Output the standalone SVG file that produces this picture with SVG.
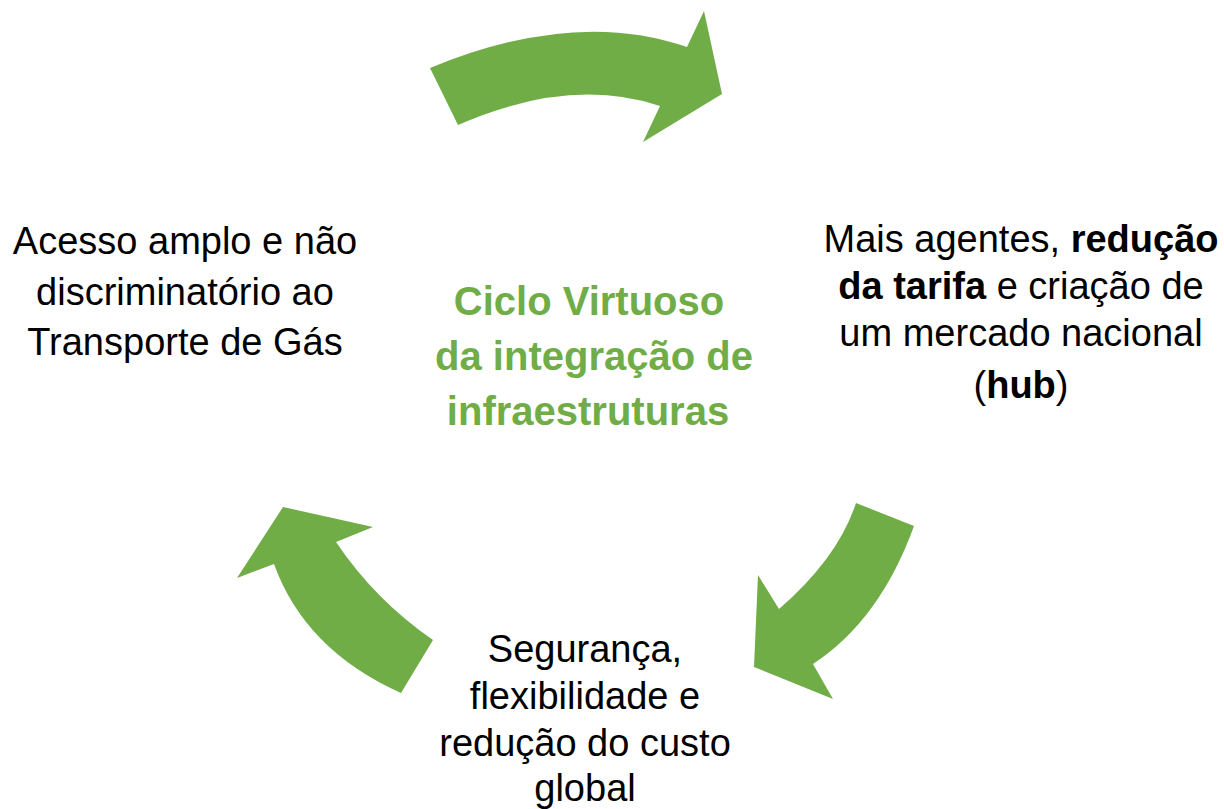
<svg xmlns="http://www.w3.org/2000/svg" width="1224" height="809" viewBox="0 0 1224 809">
<style>
.arrow{fill:#70AD47;stroke:none}
.lbl{font-family:"Liberation Sans",Arial,sans-serif;font-size:38px;fill:#000;text-anchor:middle}
.ttl{font-family:"Liberation Sans",Arial,sans-serif;font-size:40px;font-weight:bold;fill:#70AD47;text-anchor:middle}
.b{font-weight:bold}
</style>
<rect width="1224" height="809" fill="#fff"/>
<g id="connectors">
<path class="arrow" d="M430,68 Q575,8 687,47 L704,11 L722,94 L643,142 L660,106 Q570,76 458,125 Z"/>
<path class="arrow" d="M914,526 Q880,620 813,664 L833,699 L754,667 L758,575 L779,609 Q838,558 856,503 Z"/>
<path class="arrow" d="M433,640 Q375,600 336,542 L373,527 L283,507 L237,578 L274,564 Q305,650 401,693 Z"/>
</g>
<g id="node-center">
<text class="ttl" x="589" y="315">Ciclo Virtuoso</text>
<text class="ttl" x="594" y="370">da integração de</text>
<text class="ttl" x="588" y="425">infraestruturas</text>
</g>
<g id="node-left">
<text class="lbl" x="185" y="254">Acesso amplo e não</text>
<text class="lbl" x="185" y="305">discriminatório ao</text>
<text class="lbl" x="185" y="355">Transporte de Gás</text>
</g>
<g id="node-right">
<text class="lbl" x="1021" y="252">Mais agentes, <tspan class="b">redução</tspan></text>
<text class="lbl" x="1021" y="299"><tspan class="b">da tarifa</tspan> e criação de</text>
<text class="lbl" x="1021" y="346">um mercado nacional</text>
<text class="lbl" x="1021" y="398">(<tspan class="b">hub</tspan>)</text>
</g>
<g id="node-bottom">
<text class="lbl" x="585" y="662">Segurança,</text>
<text class="lbl" x="585" y="709">flexibilidade e</text>
<text class="lbl" x="585" y="756">redução do custo</text>
<text class="lbl" x="585" y="801">global</text>
</g>
</svg>
